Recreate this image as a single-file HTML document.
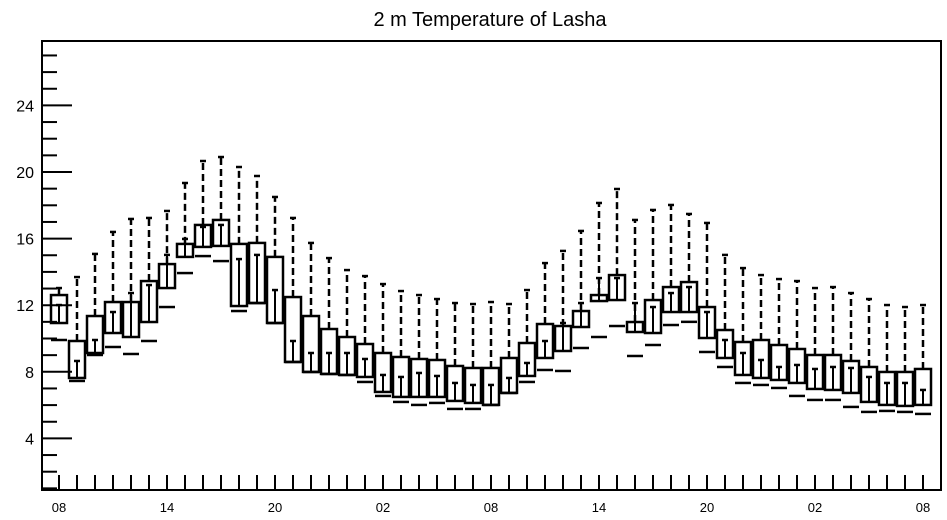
<!DOCTYPE html>
<html><head><meta charset="utf-8"><style>
body{margin:0;background:#fff;}
svg{display:block;font-family:"Liberation Sans",sans-serif;}
</style></head><body>
<svg id="chart" width="947" height="520" viewBox="0 0 947 520" xmlns="http://www.w3.org/2000/svg">
<text x="490" y="26" font-size="20" text-anchor="middle">2 m Temperature of Lasha</text>
<g id="axes"></g>
<g id="boxes"></g>
<rect x="42" y="41" width="899" height="449" fill="none" stroke="#000" stroke-width="2"/>
</svg>
<script>
const maxV=[13.03,13.69,15.08,16.40,17.18,17.24,17.66,19.34,20.66,20.90,20.30,19.76,18.50,17.24,15.74,14.83,14.11,13.75,13.27,12.85,12.61,12.37,12.13,12.07,12.19,12.07,12.91,14.53,15.26,16.46,18.14,18.98,17.12,17.72,18.02,17.48,16.94,15.02,14.23,13.81,13.57,13.45,13.03,13.09,12.73,12.37,12.01,11.89,12.01];
const q3V=[12.61,9.85,11.35,12.19,12.19,13.45,14.47,15.68,16.82,17.12,15.68,15.74,14.90,12.49,11.35,10.57,10.09,9.67,9.13,8.89,8.77,8.71,8.35,8.23,8.23,8.83,9.73,10.87,10.75,11.65,12.61,13.81,10.99,12.31,13.09,13.39,11.89,10.51,9.79,9.91,9.61,9.37,9.01,9.01,8.65,8.29,7.99,7.99,8.17];
const midV=[12.01,8.65,9.91,11.59,12.73,13.21,15.02,15.98,16.70,16.82,14.77,15.02,12.91,9.85,9.13,9.13,9.13,8.77,7.81,7.69,7.93,7.75,7.33,7.21,7.21,7.63,8.53,9.85,10.93,12.13,13.63,13.63,12.13,11.89,12.73,13.09,11.59,9.91,9.13,8.71,8.29,8.41,8.17,8.29,8.23,7.69,7.33,7.33,6.91];
const q1V=[10.93,7.63,9.13,10.33,10.09,10.99,13.03,14.90,15.50,15.56,11.95,12.13,10.93,8.59,7.99,7.87,7.81,7.69,6.79,6.49,6.49,6.49,6.25,6.13,6.01,6.73,7.75,8.83,9.25,10.69,12.25,12.31,10.39,10.33,11.59,11.59,10.03,8.83,7.81,7.63,7.51,7.33,6.97,6.91,6.73,6.19,6.01,5.95,6.01];
const minV=[9.91,7.45,9.01,9.49,9.07,9.85,11.89,13.93,14.95,14.65,11.65,12.13,10.93,8.59,7.99,7.87,7.81,7.39,6.55,6.19,6.01,6.13,5.77,5.77,6.01,6.73,7.39,8.11,8.05,9.43,10.09,10.75,8.95,9.61,10.81,11.00,9.19,8.29,7.33,7.21,7.03,6.55,6.31,6.31,5.89,5.59,5.65,5.59,5.47];
const yTicks=[4,8,12,16,20,24];
const xLabels=["08","14","20","02","08","14","20","02","08"];

const NS="http://www.w3.org/2000/svg";
const yS=v=>505-v*16.65;
const xS=i=>59+i*18;
function mk(tag,attrs,parent){const e=document.createElementNS(NS,tag);for(const k in attrs)e.setAttribute(k,attrs[k]);parent.appendChild(e);return e;}
const axes=document.getElementById('axes');
for(let v=1;v<=27;v++){
  const major=yTicks.includes(v);
  const t=mk('line',{x1:42,x2:major?72:57,y1:yS(v),y2:yS(v),stroke:'#000','stroke-width':2},axes);
  
  
}
yTicks.forEach(v=>{
  const t=mk('text',{x:34,y:yS(v)+6,'font-size':16,'text-anchor':'end'},axes);
  t.textContent=v;
  
  
});
for(let i=0;i<maxV.length;i++){
  const t=mk('line',{x1:xS(i),x2:xS(i),y1:490,y2:475,stroke:'#000','stroke-width':2},axes);
  
  
}
xLabels.forEach((s,j)=>{
  const t=mk('text',{x:xS(j*6),y:512,'font-size':13,'text-anchor':'middle'},axes);
  t.textContent=s;
  
  
});
const boxes=document.getElementById('boxes');
for(let i=0;i<maxV.length;i++){
  const g=mk('g',{},boxes);
  
  
  const x=xS(i);
  const w=mk('line',{x1:x,x2:x,y1:yS(q3V[i]),y2:yS(maxV[i]),stroke:'#000','stroke-width':2.5,'stroke-dasharray':'7,4'},g);
  
  
  const c=mk('line',{x1:x-3,x2:x+3,y1:yS(maxV[i]),y2:yS(maxV[i]),stroke:'#000','stroke-width':2.5},g);
  
  
  const top=yS(Math.max(q3V[i],q1V[i])),bot=yS(Math.min(q3V[i],q1V[i]));
  const r=mk('rect',{x:x-8,y:top,width:16,height:Math.max(bot-top,1),fill:'none',stroke:'#000','stroke-width':2.5},g);
  
  
  const m=mk('line',{x1:x,x2:x,y1:yS(midV[i]),y2:yS(q1V[i]),stroke:'#000','stroke-width':2},g);
  
  
  const mc=mk('line',{x1:x-3,x2:x+3,y1:yS(midV[i]),y2:yS(midV[i]),stroke:'#000','stroke-width':2.5},g);
  
  
  const mn=mk('line',{x1:x-8,x2:x+8,y1:yS(minV[i]),y2:yS(minV[i]),stroke:'#000','stroke-width':2.5},g);
  
  
}
</script>
</body></html>
